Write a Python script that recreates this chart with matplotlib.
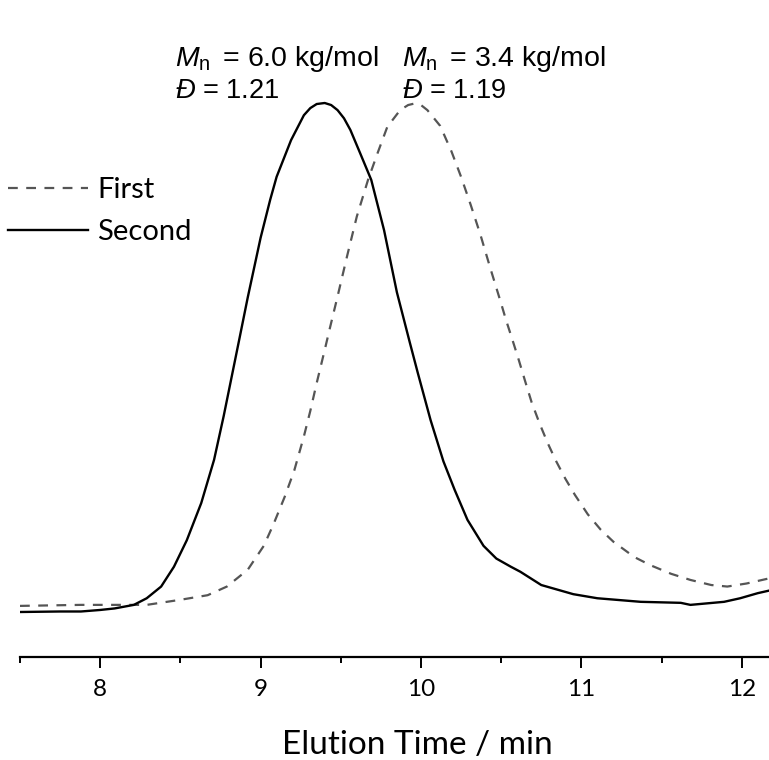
import matplotlib
matplotlib.use("Agg")
import matplotlib.pyplot as plt
from matplotlib.ticker import MultipleLocator

# ---- data ----
first_time = [7.50, 7.88, 8.29, 8.50, 8.67, 8.79, 8.92, 9.02, 9.08, 9.15, 9.21, 9.27,
              9.31, 9.35, 9.40, 9.43, 9.48, 9.54, 9.60, 9.67, 9.73, 9.79, 9.87, 9.92,
              9.96, 10.00, 10.04, 10.12, 10.19, 10.25, 10.31, 10.37, 10.43, 10.50, 10.53,
              10.57, 10.61, 10.65, 10.69, 10.74, 10.79, 10.84, 10.90, 10.96, 11.04,
              11.12, 11.20, 11.33, 11.43, 11.56, 11.68, 11.81, 11.91, 12.03, 12.17]
first_signal = [0.012, 0.014, 0.014, 0.024, 0.033, 0.050, 0.083, 0.130, 0.172, 0.226,
                0.278, 0.345, 0.395, 0.450, 0.515, 0.555, 0.620, 0.700, 0.777, 0.849,
                0.902, 0.953, 0.986, 0.996, 0.999, 0.996, 0.986, 0.955, 0.905, 0.855,
                0.800, 0.742, 0.678, 0.606, 0.574, 0.535, 0.495, 0.453, 0.412, 0.370,
                0.332, 0.298, 0.262, 0.230, 0.192, 0.162, 0.138, 0.108, 0.092, 0.075,
                0.063, 0.053, 0.050, 0.056, 0.066]

second_time = [7.50, 7.75, 7.88, 8.00, 8.09, 8.21, 8.29, 8.38, 8.46, 8.54, 8.63, 8.71,
               8.77, 8.81, 8.87, 8.92, 9.00, 9.06, 9.10, 9.19, 9.27, 9.31, 9.35, 9.40,
               9.44, 9.48, 9.52, 9.56, 9.62, 9.69, 9.77, 9.85, 9.93, 9.98, 10.06, 10.14,
               10.21, 10.29, 10.39, 10.47, 10.56, 10.62, 10.75, 10.95, 11.10, 11.37,
               11.62, 11.68, 11.89, 11.99, 12.10, 12.17]
second_signal = [0.000, 0.001, 0.001, 0.004, 0.007, 0.014, 0.027, 0.050, 0.089, 0.141,
                 0.214, 0.299, 0.385, 0.447, 0.540, 0.618, 0.735, 0.810, 0.855, 0.927,
                 0.976, 0.990, 0.998, 1.000, 0.996, 0.986, 0.970, 0.947, 0.902, 0.849,
                 0.750, 0.628, 0.530, 0.470, 0.377, 0.296, 0.240, 0.181, 0.130, 0.105,
                 0.089, 0.079, 0.053, 0.035, 0.027, 0.020, 0.018, 0.014, 0.020, 0.027,
                 0.037, 0.042]

series_labels = ["First", "Second"]
annot_mn = ["6.0 kg/mol", "3.4 kg/mol"]
annot_d = ["1.21", "1.19"]
xticks_major = [8, 9, 10, 11, 12]

# ---- style ----
plt.rcParams['mathtext.fontset'] = 'custom'
plt.rcParams['mathtext.rm'] = 'Liberation Sans'
plt.rcParams['mathtext.it'] = 'Liberation Sans:italic'

W, H = 769, 760
fig = plt.figure(figsize=(W / 100, H / 100), dpi=100)
spine_y = 657
ax = fig.add_axes([20 / W, (H - spine_y) / H, (W - 20) / W, spine_y / H])

l1, = ax.plot(first_time, first_signal, color='#555555', lw=1.6,
              linestyle=(0, (4.4, 3.8)), label=series_labels[0],
              solid_joinstyle='round', dash_joinstyle='round')
l2, = ax.plot(second_time, second_signal, color='black', lw=1.7,
              label=series_labels[1], solid_joinstyle='round')

ax.set_xlim(7.5, 12.17)
ax.set_ylim((612 - 657) / 509, 612 / 509)

for s in ['top', 'left', 'right']:
    ax.spines[s].set_visible(False)
ax.spines['bottom'].set_linewidth(1.6)
ax.set_yticks([])
ax.set_xticks(xticks_major)
ax.xaxis.set_minor_locator(MultipleLocator(0.5))
ax.tick_params(axis='x', which='major', length=8, width=1.4, direction='out',
               pad=8, labelsize=17.5, labelfontfamily='Lato')
ax.tick_params(axis='x', which='minor', length=4, width=1.4, direction='out')
ax.set_xlabel("Elution Time / min", fontsize=24, family='Lato')
ax.xaxis.set_label_coords((417 - 20) / (W - 20), (657 - 745) / 657)
ax.xaxis.label.set_va('center')

leg = ax.legend(handles=[l1, l2], loc='upper left', bbox_to_anchor=(8 / W, 1 - 177 / H),
                bbox_transform=fig.transFigure, frameon=False,
                prop={'family': 'Lato', 'size': 21}, handlelength=2.75,
                handletextpad=0.3, labelspacing=0.55, borderaxespad=0, borderpad=0)

def ftext(px, py, s, size):
    fig.text(px / W, 1 - py / H, s, ha='left', va='baseline',
             family='Liberation Sans', fontsize=size)

for x0, mn, d in zip([175, 402], annot_mn, annot_d):
    ftext(x0, 66, r"$\mathit{M}_\mathrm{n}\,$" + " = " + mn, 20.5)
    ftext(x0, 98, r"$\mathit{Đ}$" + " = " + d, 19.5)

fig.savefig("out.png", dpi=100)
